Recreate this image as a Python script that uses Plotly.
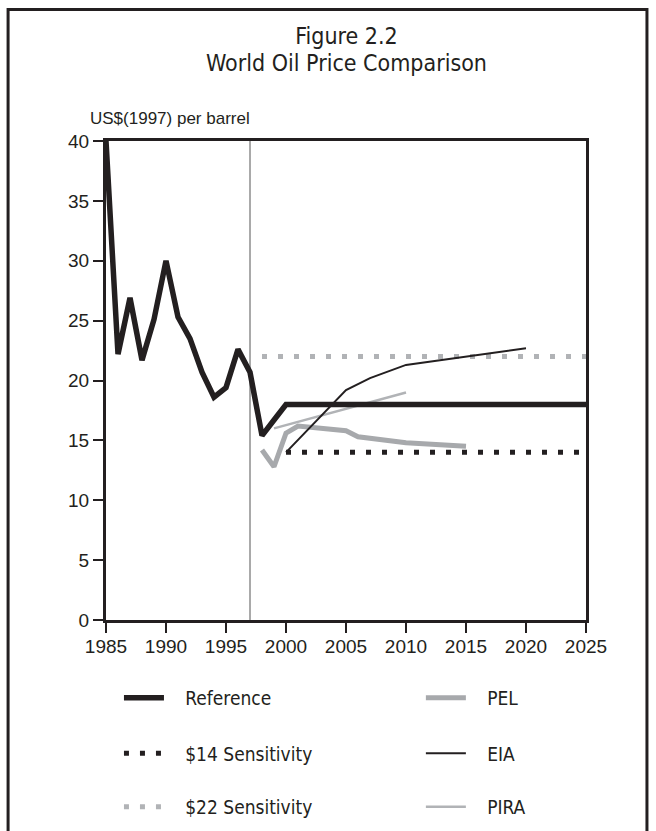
import plotly.graph_objects as go

# ---------------- data ----------------
ref_years = [1985, 1986, 1987, 1988, 1989, 1990, 1991, 1992, 1993, 1994, 1995,
             1996, 1997, 1998, 1999, 2000, 2025]
ref_vals = [40.0, 22.2, 26.9, 21.7, 25.1, 30.0, 25.3, 23.5, 20.7, 18.6, 19.4,
            22.6, 20.7, 15.4, 16.7, 18.0, 18.0]

s14_years = [2000, 2025]
s14_vals = [14.0, 14.0]

s22_years = [1998, 2025]
s22_vals = [22.0, 22.0]

pel_years = [1998, 1999, 2000, 2001, 2005, 2006, 2010, 2015]
pel_vals = [14.2, 12.8, 15.6, 16.2, 15.8, 15.3, 14.8, 14.5]

eia_years = [2000, 2005, 2007, 2010, 2020]
eia_vals = [14.0, 19.2, 20.2, 21.3, 22.7]

pira_years = [1999, 2010]
pira_vals = [16.0, 19.0]

base_year = 1997
x_ticks = [1985, 1990, 1995, 2000, 2005, 2010, 2015, 2020, 2025]
y_ticks = [0, 5, 10, 15, 20, 25, 30, 35, 40]

# ---------------- style ----------------
BLACK = "#231f20"
GRAY = "#a7a9ac"
GRAY2 = "#b1b3b6"
COND = "Liberation Sans Narrow, DejaVu Sans Condensed, Arial Narrow, sans-serif"
SANS = "Liberation Sans, Arial, Helvetica, sans-serif"
PAD = "\u00a0\u00a0\u00a0"

fig = go.Figure()

fig.add_trace(go.Scatter(x=s22_years, y=s22_vals, mode="lines", name=PAD + "$22 Sensitivity",
                         line=dict(color=GRAY2, width=5, dash="5px,11px"), legend="legend3"))
fig.add_trace(go.Scatter(x=s14_years, y=s14_vals, mode="lines", name=PAD + "$14 Sensitivity",
                         line=dict(color=BLACK, width=5, dash="5px,11px"), legend="legend2"))
fig.add_trace(go.Scatter(x=pira_years, y=pira_vals, mode="lines", name=PAD + "PIRA",
                         line=dict(color=GRAY2, width=2.5), legend="legend6"))
fig.add_trace(go.Scatter(x=pel_years, y=pel_vals, mode="lines", name=PAD + "PEL",
                         line=dict(color=GRAY, width=5), legend="legend4"))
fig.add_trace(go.Scatter(x=eia_years, y=eia_vals, mode="lines", name=PAD + "EIA",
                         line=dict(color=BLACK, width=2), legend="legend5"))
fig.add_trace(go.Scatter(x=ref_years, y=ref_vals, mode="lines", name=PAD + "Reference",
                         line=dict(color=BLACK, width=5.5), legend="legend"))

# vertical marker at base year
fig.add_shape(type="line", xref="x", yref="y domain", x0=base_year, x1=base_year,
              y0=0, y1=1, line=dict(color="#555555", width=1), layer="below")

# outer frame
fig.add_shape(type="rect", xref="paper", yref="paper",
              x0=-0.204, x1=1.127, y0=-0.1, y1=1.1906,
              line=dict(color=BLACK, width=3))

title_txt = ('<span style="font-size:23px">Figure 2.2</span><br>'
             '<span style="font-size:23px">World Oil Price Comparison</span>')
fig.add_annotation(text=title_txt, xref="paper", yref="paper",
                   x=0.5, y=1.1319, xanchor="center", yanchor="middle", align="center",
                   showarrow=False, font=dict(family=COND, size=21, color=BLACK))
fig.add_annotation(text="US$(1997) per barrel", xref="paper", yref="paper",
                   x=-0.0375, y=1.0333, xanchor="left", yanchor="middle",
                   showarrow=False, font=dict(family=SANS, size=17, color=BLACK))

leg = dict(orientation="v", xanchor="left", yanchor="top",
           font=dict(family=COND, size=19, color=BLACK),
           bgcolor="rgba(0,0,0,0)", itemwidth=40, tracegroupgap=0)
col1_x, col2_x = 0.027, 0.656
row_y = [0.2203, 0.1400, 0.0625]

fig.update_layout(
    width=656, height=831,
    margin=dict(l=106, r=70, t=141, b=0, autoexpand=False),
    paper_bgcolor="white", plot_bgcolor="white",
    showlegend=True,
    legend=dict(x=col1_x, y=row_y[0], **leg),
    legend2=dict(x=col1_x, y=row_y[1], **leg),
    legend3=dict(x=col1_x, y=row_y[2], **leg),
    legend4=dict(x=col2_x, y=row_y[0], **leg),
    legend5=dict(x=col2_x, y=row_y[1], **leg),
    legend6=dict(x=col2_x, y=row_y[2], **leg),
    xaxis=dict(range=[1985, 2025], tickvals=x_ticks, ticks="outside", ticklen=10,
               tickwidth=1.5, tickcolor=BLACK, showline=True, mirror=True,
               linecolor=BLACK, linewidth=3, showgrid=False, zeroline=False,
               ticklabelstandoff=-3, automargin=False,
               tickfont=dict(family=SANS, size=19, color=BLACK)),
    yaxis=dict(range=[0, 40], tickvals=y_ticks, ticks="outside", ticklen=10,
               domain=[0.3058, 1.0], automargin=False,
               tickwidth=1.5, tickcolor=BLACK, showline=True, mirror=True,
               linecolor=BLACK, linewidth=3, showgrid=False, zeroline=False,
               tickfont=dict(family=SANS, size=19, color=BLACK)),
)

fig.write_html("out.html", config={"displayModeBar": False},
               post_script="document.body.style.margin='0';")
